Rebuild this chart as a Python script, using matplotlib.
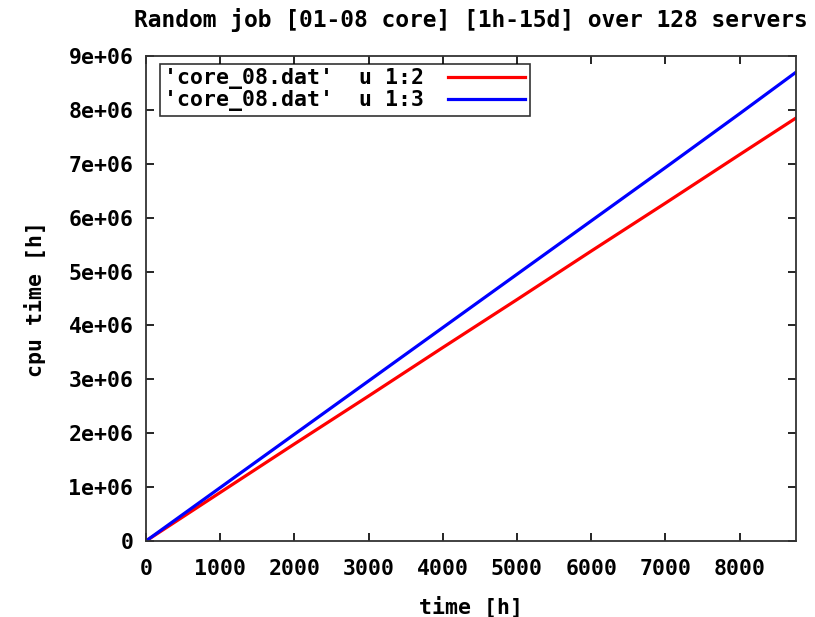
import matplotlib
matplotlib.use("Agg")
from matplotlib import pyplot as plt

# datos
tiempo = [0, 1000, 2000, 3000, 4000, 5000, 6000, 7000, 8000, 8760]
cpu_u12 = [0, 0.90e6, 1.80e6, 2.69e6, 3.59e6, 4.48e6, 5.38e6, 6.27e6, 7.17e6, 7.85e6]
cpu_u13 = [0, 0.99e6, 1.98e6, 2.97e6, 3.96e6, 4.95e6, 5.94e6, 6.93e6, 7.93e6, 8.70e6]

xticks = [0, 1000, 2000, 3000, 4000, 5000, 6000, 7000, 8000]
yticks = [0, 1e6, 2e6, 3e6, 4e6, 5e6, 6e6, 7e6, 8e6, 9e6]
ylabels = ['0', '1e+06', '2e+06', '3e+06', '4e+06', '5e+06', '6e+06', '7e+06', '8e+06', '9e+06']

plt.rcParams['font.family'] = 'DejaVu Sans Mono'
plt.rcParams['font.weight'] = 'bold'

fs = 15.5
fig = plt.figure(figsize=(8.15, 6.17), dpi=100)
ax = fig.add_axes([0.1791, 0.1232, 0.7976, 0.7860])

ax.plot(tiempo, cpu_u12, color='#ff0000', lw=2.3, label="'core_08.dat'  u 1:2")
ax.plot(tiempo, cpu_u13, color='#0000ff', lw=2.3, label="'core_08.dat'  u 1:3")

ax.set_xlim(0, 8760)
ax.set_ylim(0, 9e6)
ax.set_xticks(xticks)
ax.set_xticklabels([str(t) for t in xticks], fontsize=fs, fontweight='bold')
ax.set_yticks(yticks)
ax.set_yticklabels(ylabels, fontsize=fs, fontweight='bold')
ax.tick_params(axis='x', pad=13)
ax.tick_params(axis='y', pad=9)
ax.tick_params(direction='in', top=True, right=True, length=6, width=1.2)
for s in ax.spines.values():
    s.set_linewidth(1.3)
    s.set_color('#333333')

ax.set_xlabel('time [h]', fontsize=fs, fontweight='bold', labelpad=12)
ax.set_ylabel('cpu time [h]', fontsize=fs, fontweight='bold', labelpad=16)
ax.set_title('Random job [01-08 core] [1h-15d] over 128 servers', fontsize=16.5,
             fontweight='bold', pad=21)

leg = ax.legend(loc='upper left', bbox_to_anchor=(0.0215, 0.9835), fontsize=fs,
                frameon=True, fancybox=False, edgecolor='black', handlelength=3.6,
                borderaxespad=0, borderpad=0.2, labelspacing=0.05,
                markerfirst=False, handletextpad=1.1)
leg.get_frame().set_linewidth(1.2)

fig.savefig('out.png', dpi=100)
